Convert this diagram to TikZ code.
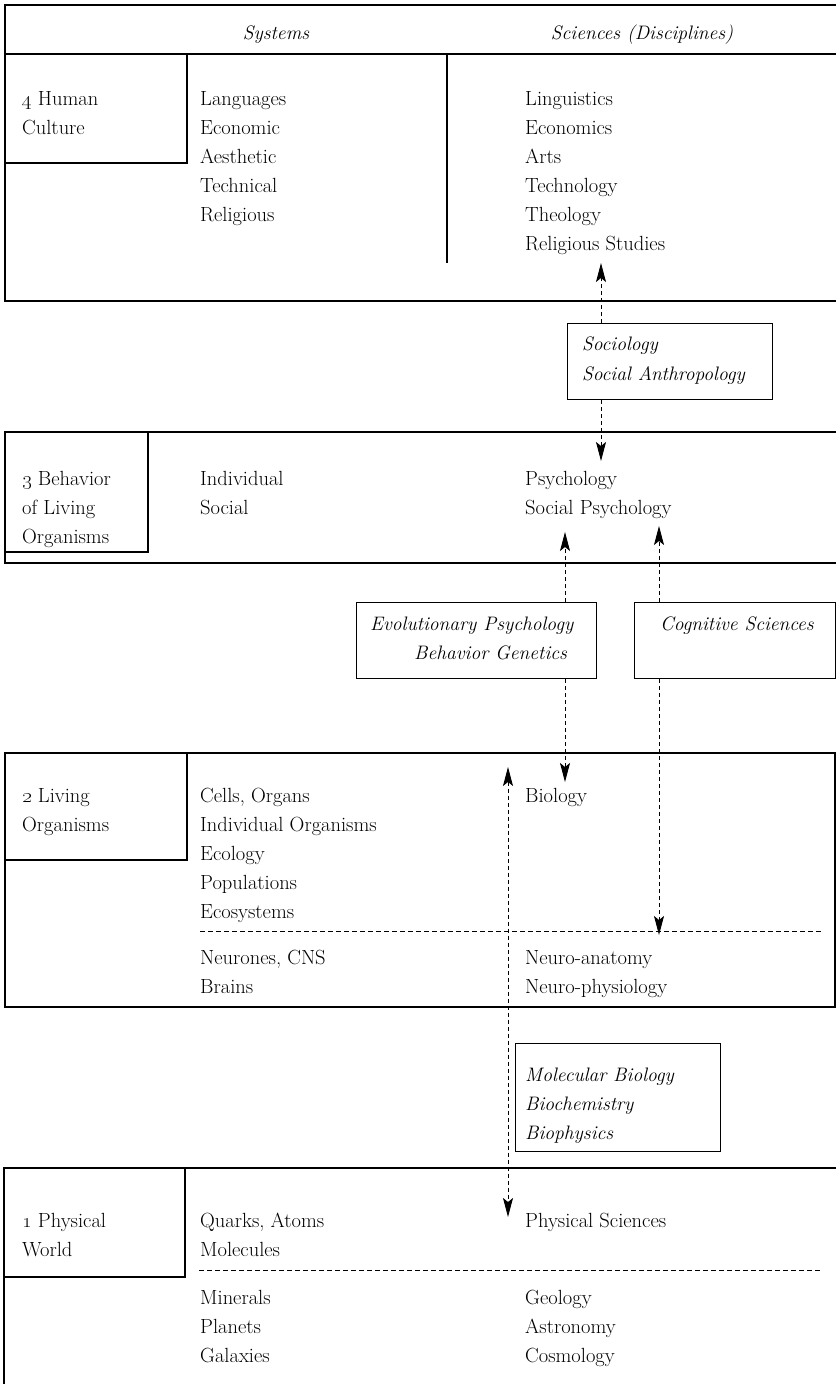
\documentclass[tikz,border=0pt]{standalone}
\usetikzlibrary{arrows.meta}
\begin{document}
\begin{tikzpicture}[x=1pt,y=-1pt,
  frame/.style={line width=1.1pt},
  panel/.style={draw, line width=1.1pt, inner sep=0pt, anchor=north west},
  lbl/.style={anchor=base west, inner sep=0pt, font=\fontsize{20.5}{29}\selectfont},
  itl/.style={anchor=base west, inner sep=0pt, font=\fontsize{19.5}{29}\selectfont\itshape},
  head/.style={anchor=base, inner sep=0pt, font=\fontsize{19.5}{29}\selectfont\itshape},
  sepline/.style={line width=0.9pt, dash pattern=on 5pt off 3pt},
  arr/.style={line width=0.9pt, dash pattern=on 4pt off 3pt, -{Stealth[length=19pt,width=10pt,inset=4pt]}},
  darr/.style={line width=0.9pt, dash pattern=on 4pt off 3pt, {Stealth[length=19pt,width=10pt,inset=4pt]}-{Stealth[length=19pt,width=10pt,inset=4pt]}}
]
\newcommand\colitems[4]{%
  \foreach \t [count=\i] in {#4} \node[lbl] (#1-\i) at (#2, {#3+29*(\i-1)}) {\t};}
\useasboundingbox (0,0) rectangle (836,1384);

% ---------- Band 4 ----------
\draw[frame] (836,5) -- (5,5) -- (5,301) -- (836,301);
\draw[frame] (5,54) -- (836,54);
\draw[frame] (5,163) -- (187,163) -- (187,54);
\draw[frame] (447,54) -- (447,263);
\node[head] (hsys) at (276,39) {Systems};
\node[head] (hsci) at (642,39) {Sciences (Disciplines)};
\colitems{lab4}{22}{105}{\oldstylenums{4} Human,Culture}
\colitems{sys4}{200}{105}{Languages,Economic,Aesthetic,Technical,Religious}
\colitems{sci4}{525}{105}{Linguistics,Economics,Arts,Technology,Theology,Religious Studies}

% Sociology box
\node[panel, minimum width=205pt, minimum height=76pt] (soc) at (567,323) {};
\node[itl] (soc1) at (582,350) {Sociology};
\node[itl] (soc2) at (582,380) {Social Anthropology};

% ---------- Band 3 ----------
\draw[frame] (836,432) -- (5,432) -- (5,563) -- (836,563);
\draw[frame] (5,552) -- (148,552) -- (148,432);
\colitems{lab3}{22}{485}{\oldstylenums{3} Behavior,of Living,Organisms}
\colitems{sys3}{200}{485}{Individual,Social}
\colitems{sci3}{525}{485}{Psychology,Social Psychology}

% Evolutionary / Cognitive boxes
\node[panel, minimum width=240pt, minimum height=76pt] (evo) at (356,602) {};
\node[itl] (evo1) at (370,630) {Evolutionary Psychology};
\node[itl] (evo2) at (414,659) {Behavior Genetics};
\node[panel, minimum width=201pt, minimum height=76pt] (cog) at (634,602) {};
\node[itl] (cog1) at (660,630) {Cognitive Sciences};

% ---------- Band 2 ----------
\draw[frame] (5,753) rectangle (835,1007);
\draw[frame] (5,860) -- (187,860) -- (187,753);
\colitems{lab2}{22}{802}{\oldstylenums{2} Living,Organisms}
\colitems{sys2}{200}{802}{{Cells, Organs},Individual Organisms,Ecology,Populations,Ecosystems}
\colitems{sci2}{525}{802}{Biology}
\draw[sepline] (200,931) -- (822,931);
\colitems{sys2b}{200}{964}{{Neurones, CNS},Brains}
\colitems{sci2b}{525}{964}{Neuro-anatomy,Neuro-physiology}

% Molecular box
\node[panel, minimum width=205pt, minimum height=108pt] (mol) at (515,1043) {};
\node[itl] (mol1) at (525,1081) {Molecular Biology};
\node[itl] (mol2) at (525,1110) {Biochemistry};
\node[itl] (mol3) at (525,1139) {Biophysics};

% ---------- Band 1 ----------
\draw[frame] (836,1168) -- (4,1168) -- (4,1384);
\draw[frame] (4,1277) -- (185,1277) -- (185,1168);
\colitems{lab1}{22}{1227}{\oldstylenums{1} Physical,World}
\colitems{sys1}{200}{1227}{{Quarks, Atoms},Molecules}
\colitems{sci1}{525}{1227}{Physical Sciences}
\draw[sepline] (199,1270) -- (821,1270);
\colitems{sys1b}{200}{1304}{Minerals,Planets,Galaxies}
\colitems{sci1b}{525}{1304}{Geology,Astronomy,Cosmology}

% ---------- Connectors ----------
\coordinate (t4) at (601,263);
\coordinate (t3) at (601,461);
\draw[arr] (soc.north -| t4) -- (t4);
\draw[arr] (soc.south -| t3) -- (t3);
\coordinate (p3a) at (565,532);
\coordinate (p3b) at (659,526);
\draw[arr] (evo.north -| p3a) -- (p3a);
\draw[arr] (cog.north -| p3b) -- (p3b);
\coordinate (bio) at (565,782);
\coordinate (neu) at (659,935);
\draw[arr] (evo.south -| bio) -- (bio);
\draw[arr] (cog.south -| neu) -- (neu);
\coordinate (m2) at (508,767);
\coordinate (m1) at (508,1217);
\draw[darr] (m2) -- (m1);
\end{tikzpicture}
\end{document}
